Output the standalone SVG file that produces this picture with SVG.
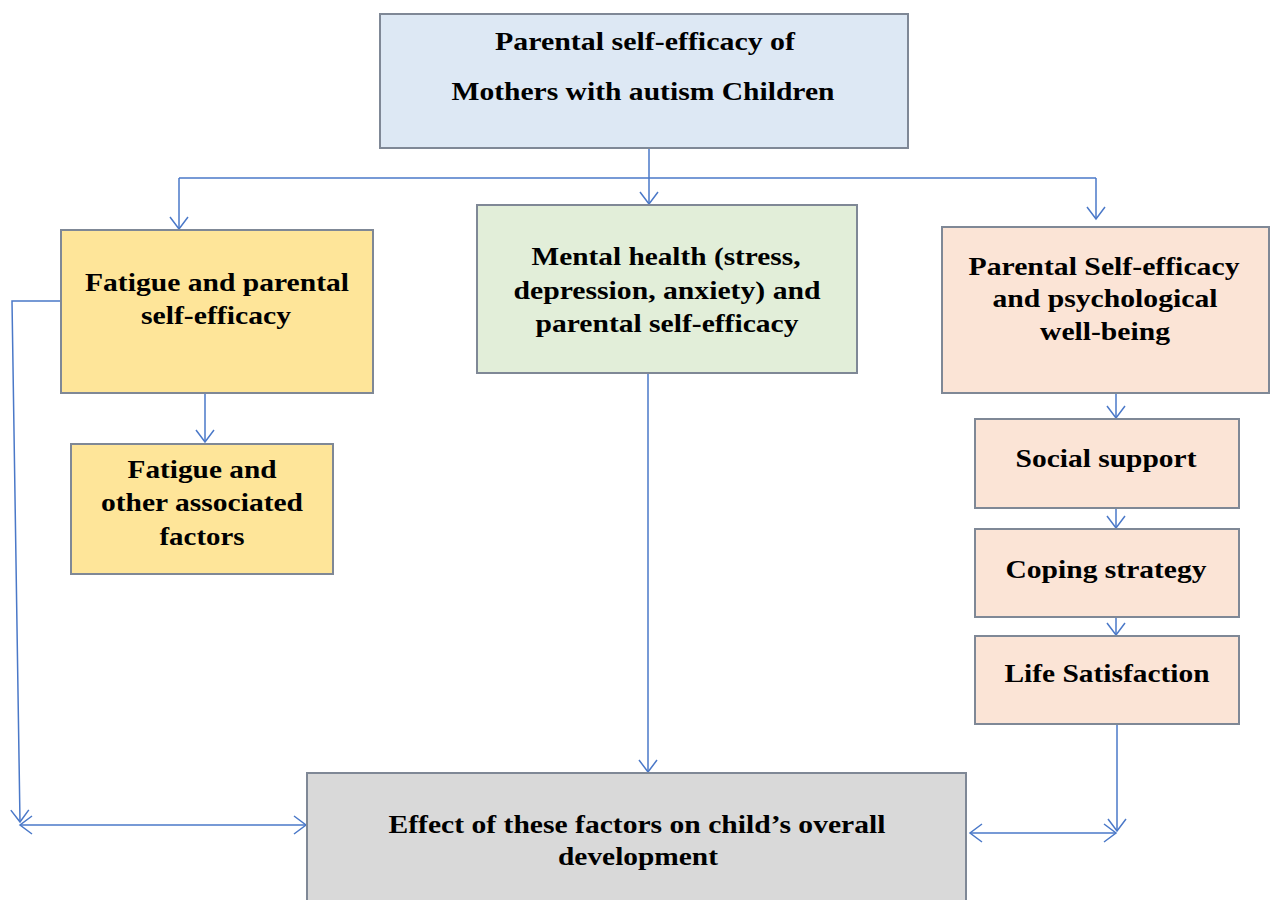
<svg xmlns="http://www.w3.org/2000/svg" width="1271" height="900" viewBox="0 0 1271 900">
<style>
.box{stroke:#7f8896;stroke-width:2}
.t{font-family:"Liberation Serif","Times New Roman",serif;font-weight:bold;font-size:25px;fill:#000;text-anchor:middle}
.c{fill:none;stroke:#4a78c8;stroke-width:1.5}
</style>
<defs>
<marker id="a" markerWidth="16" markerHeight="20" refX="13" refY="10" orient="auto-start-reverse" markerUnits="userSpaceOnUse">
<path d="M1,1 L13,10 L1,19" fill="none" stroke="#4a78c8" stroke-width="1.5"/>
</marker>
</defs>
<rect width="1271" height="900" fill="#fff"/>
<g id="connectors">
<path class="c" d="M649,148 V204" marker-end="url(#a)"/>
<path class="c" d="M179,178 H1096"/>
<path class="c" d="M179,178 V229" marker-end="url(#a)"/>
<path class="c" d="M1096,178 V219" marker-end="url(#a)"/>
<path class="c" d="M61,301 H12 L20,822" marker-end="url(#a)"/>
<path class="c" d="M20,825 H306" marker-start="url(#a)" marker-end="url(#a)"/>
<path class="c" d="M205,393 V442" marker-end="url(#a)"/>
<path class="c" d="M648,373 V772" marker-end="url(#a)"/>
<path class="c" d="M1116,393 V418" marker-end="url(#a)"/>
<path class="c" d="M1116,508 V528" marker-end="url(#a)"/>
<path class="c" d="M1116,617 V635" marker-end="url(#a)"/>
<path class="c" d="M1117,724 V831" marker-end="url(#a)"/>
<path class="c" d="M970,833 H1116" marker-start="url(#a)" marker-end="url(#a)"/>
</g>
<g id="n-top">
<rect class="box" x="380" y="14" width="528" height="134" fill="#dde8f4"/>
<text class="t" x="645" y="50" textLength="300" lengthAdjust="spacingAndGlyphs">Parental self-efficacy of</text>
<text class="t" x="643" y="100" textLength="383" lengthAdjust="spacingAndGlyphs">Mothers with autism Children</text>
</g>
<g id="n-fatigue">
<rect class="box" x="61" y="230" width="312" height="163" fill="#fee599"/>
<text class="t" x="217" y="291" textLength="264" lengthAdjust="spacingAndGlyphs">Fatigue and parental</text>
<text class="t" x="216" y="324" textLength="150" lengthAdjust="spacingAndGlyphs">self-efficacy</text>
</g>
<g id="n-fatigue-other">
<rect class="box" x="71" y="444" width="262" height="130" fill="#fee599"/>
<text class="t" x="202" y="478" textLength="149" lengthAdjust="spacingAndGlyphs">Fatigue and</text>
<text class="t" x="202" y="511" textLength="202" lengthAdjust="spacingAndGlyphs">other associated</text>
<text class="t" x="202" y="545" textLength="85" lengthAdjust="spacingAndGlyphs">factors</text>
</g>
<g id="n-mental">
<rect class="box" x="477" y="205" width="380" height="168" fill="#e2eed9"/>
<text class="t" x="666" y="265" textLength="269" lengthAdjust="spacingAndGlyphs">Mental health (stress,</text>
<text class="t" x="667" y="299" textLength="307" lengthAdjust="spacingAndGlyphs">depression, anxiety) and</text>
<text class="t" x="667" y="332" textLength="263" lengthAdjust="spacingAndGlyphs">parental self-efficacy</text>
</g>
<g id="n-psych">
<rect class="box" x="942" y="227" width="327" height="166" fill="#fbe4d6"/>
<text class="t" x="1104" y="275" textLength="271" lengthAdjust="spacingAndGlyphs">Parental Self-efficacy</text>
<text class="t" x="1105" y="307" textLength="225" lengthAdjust="spacingAndGlyphs">and psychological</text>
<text class="t" x="1105" y="340" textLength="130" lengthAdjust="spacingAndGlyphs">well-being</text>
</g>
<g id="n-social">
<rect class="box" x="975" y="419" width="264" height="89" fill="#fbe4d6"/>
<text class="t" x="1106" y="467" textLength="181" lengthAdjust="spacingAndGlyphs">Social support</text>
</g>
<g id="n-coping">
<rect class="box" x="975" y="529" width="264" height="88" fill="#fbe4d6"/>
<text class="t" x="1106" y="578" textLength="201" lengthAdjust="spacingAndGlyphs">Coping strategy</text>
</g>
<g id="n-life">
<rect class="box" x="975" y="636" width="264" height="88" fill="#fbe4d6"/>
<text class="t" x="1107" y="682" textLength="205" lengthAdjust="spacingAndGlyphs">Life Satisfaction</text>
</g>
<g id="n-effect">
<rect class="box" x="307" y="773" width="659" height="135" fill="#d9d9d9"/>
<text class="t" x="637" y="833" textLength="497" lengthAdjust="spacingAndGlyphs">Effect of these factors on child’s overall</text>
<text class="t" x="638" y="865" textLength="160" lengthAdjust="spacingAndGlyphs">development</text>
</g>
</svg>
